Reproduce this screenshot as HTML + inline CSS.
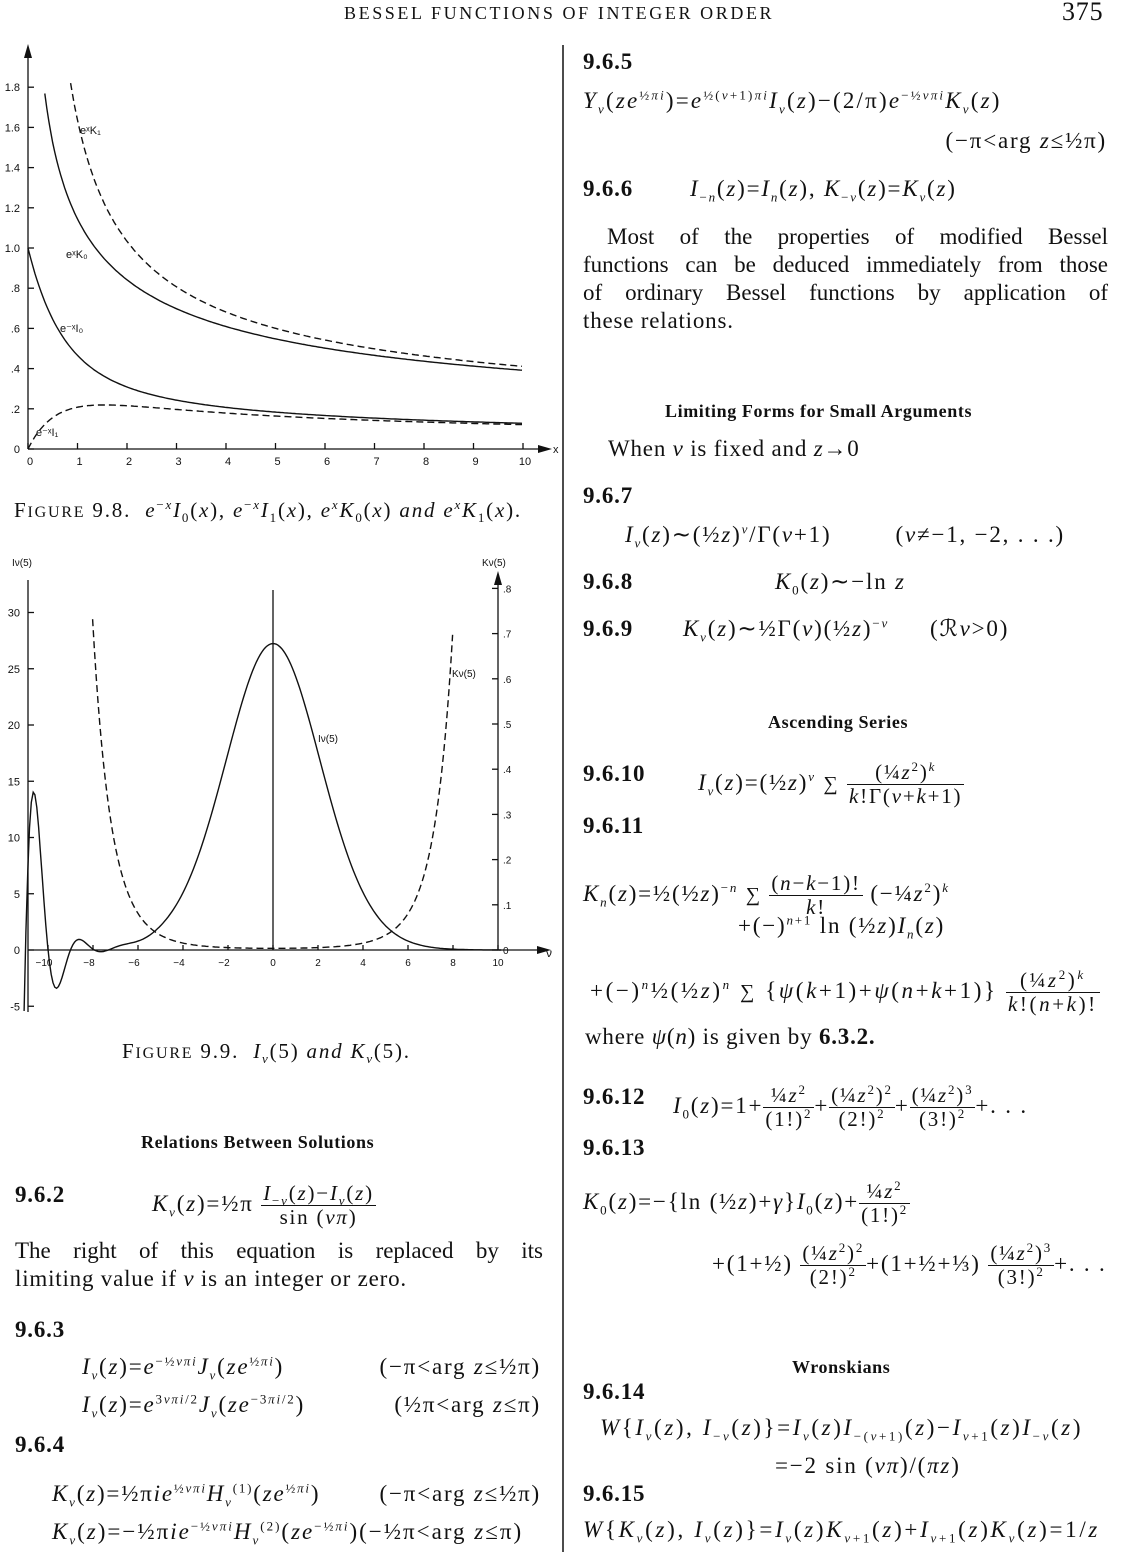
<!DOCTYPE html>
<html><head><meta charset="utf-8">
<style>
body{margin:0;background:#fff;}
#p{position:relative;width:1133px;height:1552px;overflow:hidden;background:#fff;color:#111;font-family:"Liberation Serif",serif;}
.t{position:absolute;white-space:nowrap;font-size:23px;line-height:26px;letter-spacing:0.8px;}
.f{letter-spacing:1.8px;}
.b{font-weight:bold;}
.h{font-weight:bold;font-size:18px;letter-spacing:0.6px;}
i{font-style:italic;}
sub,sup{font-size:13px;line-height:0;}
.fr{display:inline-block;vertical-align:middle;text-align:center;font-size:21px;line-height:23px;}
.fr>span{display:block;padding:0 2px;}
.fr>span:first-child{border-bottom:1.5px solid #111;}
</style></head><body><div id="p">
<div class="t" style="left:344px;top:0px;font-size:18px;letter-spacing:2.6px">BESSEL FUNCTIONS OF INTEGER ORDER</div>
<div class="t" style="left:1062px;top:-1px;font-size:26px">375</div>

<svg id="g" width="1133" height="1552" style="position:absolute;left:0;top:0" xmlns="http://www.w3.org/2000/svg"></svg>

<div class="t f" style="left:14px;top:497px;font-size:21px">F<span style="font-size:16px">IGURE</span> 9.8. &nbsp;<i>e</i><sup>−<i>x</i></sup><i>I</i><sub>0</sub>(<i>x</i>), <i>e</i><sup>−<i>x</i></sup><i>I</i><sub>1</sub>(<i>x</i>), <i>e</i><sup><i>x</i></sup><i>K</i><sub>0</sub>(<i>x</i>) <i>and e</i><sup><i>x</i></sup><i>K</i><sub>1</sub>(<i>x</i>).</div>
<div class="t f" style="left:122px;top:1038px;font-size:21px">F<span style="font-size:16px">IGURE</span> 9.9. &nbsp;<i>I<sub>ν</sub></i>(5) <i>and K<sub>ν</sub></i>(5).</div>
<div class="t h" style="left:141px;top:1129px">Relations Between Solutions</div>
<div class="t b" style="left:15px;top:1182px">9.6.2</div>
<div class="t f" style="left:152px;top:1182px"><i>K<sub>ν</sub></i>(<i>z</i>)=½π <span class="fr"><span><i>I</i><sub>−<i>ν</i></sub>(<i>z</i>)−<i>I<sub>ν</sub></i>(<i>z</i>)</span><span>sin (<i>νπ</i>)</span></span></div>
<div class="t" style="left:15px;top:1238px;width:528px;text-align:justify;text-align-last:justify;letter-spacing:0">The right of this equation is replaced by its</div>
<div class="t" style="left:15px;top:1266px">limiting value if <i>ν</i> is an integer or zero.</div>
<div class="t b" style="left:15px;top:1317px">9.6.3</div>
<div class="t f" style="left:82px;top:1354px"><i>I<sub>ν</sub></i>(<i>z</i>)=<i>e</i><sup>−½<i>νπi</i></sup><i>J<sub>ν</sub></i>(<i>ze</i><sup>½<i>πi</i></sup>)</div>
<div class="t f" style="right:592px;top:1354px">(−π&lt;arg <i>z</i>≤½π)</div>
<div class="t f" style="left:82px;top:1392px"><i>I<sub>ν</sub></i>(<i>z</i>)=<i>e</i><sup>3<i>νπi</i>/2</sup><i>J<sub>ν</sub></i>(<i>ze</i><sup>−3<i>πi</i>/2</sup>)</div>
<div class="t f" style="right:592px;top:1392px">(½π&lt;arg <i>z</i>≤π)</div>
<div class="t b" style="left:15px;top:1432px">9.6.4</div>
<div class="t f" style="left:52px;top:1481px"><i>K<sub>ν</sub></i>(<i>z</i>)=½π<i>ie</i><sup>½<i>νπi</i></sup><i>H</i><sub><i>ν</i></sub><sup>(1)</sup>(<i>ze</i><sup>½<i>πi</i></sup>)</div>
<div class="t f" style="right:592px;top:1481px">(−π&lt;arg <i>z</i>≤½π)</div>
<div class="t f" style="left:52px;top:1519px;letter-spacing:2px"><i>K<sub>ν</sub></i>(<i>z</i>)=−½π<i>ie</i><sup>−½<i>νπi</i></sup><i>H</i><sub><i>ν</i></sub><sup>(2)</sup>(<i>ze</i><sup>−½<i>πi</i></sup>)(−½π&lt;arg <i>z</i>≤π)</div>

<div class="t b" style="left:583px;top:49px">9.6.5</div>
<div class="t f" style="left:583px;top:88px;letter-spacing:2.2px"><i>Y<sub>ν</sub></i>(<i>ze</i><sup>½<i>πi</i></sup>)=<i>e</i><sup>½(<i>ν</i>+1)<i>πi</i></sup><i>I<sub>ν</sub></i>(<i>z</i>)−(2/π)<i>e</i><sup>−½<i>νπi</i></sup><i>K<sub>ν</sub></i>(<i>z</i>)</div>
<div class="t f" style="right:26px;top:128px">(−π&lt;arg <i>z</i>≤½π)</div>
<div class="t b" style="left:583px;top:176px">9.6.6</div>
<div class="t f" style="left:690px;top:176px"><i>I</i><sub>−<i>n</i></sub>(<i>z</i>)=<i>I<sub>n</sub></i>(<i>z</i>), <i>K</i><sub>−<i>ν</i></sub>(<i>z</i>)=<i>K<sub>ν</sub></i>(<i>z</i>)</div>
<div class="t" style="left:607px;top:224px;width:501px;text-align:justify;text-align-last:justify;letter-spacing:0">Most of the properties of modified Bessel</div>
<div class="t" style="left:583px;top:252px;width:525px;text-align:justify;text-align-last:justify;letter-spacing:0">functions can be deduced immediately from those</div>
<div class="t" style="left:583px;top:280px;width:525px;text-align:justify;text-align-last:justify;letter-spacing:0">of ordinary Bessel functions by application of</div>
<div class="t" style="left:583px;top:308px">these relations.</div>
<div class="t h" style="left:665px;top:398px">Limiting Forms for Small Arguments</div>
<div class="t" style="left:608px;top:436px">When <i>ν</i> is fixed and <i>z</i>→0</div>
<div class="t b" style="left:583px;top:483px">9.6.7</div>
<div class="t f" style="left:625px;top:522px"><i>I<sub>ν</sub></i>(<i>z</i>)∼(½<i>z</i>)<sup><i>ν</i></sup>/Γ(<i>ν</i>+1)</div>
<div class="t f" style="right:68px;top:522px">(<i>ν</i>≠−1, −2, . . .)</div>
<div class="t b" style="left:583px;top:569px">9.6.8</div>
<div class="t f" style="left:775px;top:569px"><i>K</i><sub>0</sub>(<i>z</i>)∼−ln <i>z</i></div>
<div class="t b" style="left:583px;top:616px">9.6.9</div>
<div class="t f" style="left:683px;top:616px"><i>K<sub>ν</sub></i>(<i>z</i>)∼½Γ(<i>ν</i>)(½<i>z</i>)<sup>−<i>ν</i></sup></div>
<div class="t f" style="left:930px;top:616px">(ℛ<i>ν</i>&gt;0)</div>
<div class="t h" style="left:768px;top:709px">Ascending Series</div>
<div class="t b" style="left:583px;top:761px">9.6.10</div>
<div class="t f" style="left:698px;top:761px"><i>I<sub>ν</sub></i>(<i>z</i>)=(½<i>z</i>)<sup><i>ν</i></sup> <span style="font-size:20px">∑</span> <span class="fr"><span>(¼<i>z</i><sup>2</sup>)<sup><i>k</i></sup></span><span><i>k</i>!Γ(<i>ν</i>+<i>k</i>+1)</span></span></div>
<div class="t b" style="left:583px;top:813px">9.6.11</div>
<div class="t f" style="left:583px;top:872px"><i>K<sub>n</sub></i>(<i>z</i>)=½(½<i>z</i>)<sup>−<i>n</i></sup> <span style="font-size:20px">∑</span> <span class="fr"><span>(<i>n</i>−<i>k</i>−1)!</span><span><i>k</i>!</span></span> (−¼<i>z</i><sup>2</sup>)<sup><i>k</i></sup></div>
<div class="t f" style="left:738px;top:913px">+(−)<sup><i>n</i>+1</sup> ln (½<i>z</i>)<i>I<sub>n</sub></i>(<i>z</i>)</div>
<div class="t f" style="left:590px;top:969px;letter-spacing:2.6px">+(−)<sup><i>n</i></sup>½(½<i>z</i>)<sup><i>n</i></sup> <span style="font-size:20px">∑</span> {<i>ψ</i>(<i>k</i>+1)+<i>ψ</i>(<i>n</i>+<i>k</i>+1)} <span class="fr"><span>(¼<i>z</i><sup>2</sup>)<sup><i>k</i></sup></span><span><i>k</i>!(<i>n</i>+<i>k</i>)!</span></span></div>
<div class="t" style="left:585px;top:1024px">where <i>ψ</i>(<i>n</i>) is given by <b>6.3.2.</b></div>
<div class="t b" style="left:583px;top:1084px">9.6.12</div>
<div class="t f" style="left:673px;top:1084px"><i>I</i><sub>0</sub>(<i>z</i>)=1+<span class="fr"><span>¼<i>z</i><sup>2</sup></span><span>(1!)<sup>2</sup></span></span>+<span class="fr"><span>(¼<i>z</i><sup>2</sup>)<sup>2</sup></span><span>(2!)<sup>2</sup></span></span>+<span class="fr"><span>(¼<i>z</i><sup>2</sup>)<sup>3</sup></span><span>(3!)<sup>2</sup></span></span>+. . .</div>
<div class="t b" style="left:583px;top:1135px">9.6.13</div>
<div class="t f" style="left:583px;top:1180px"><i>K</i><sub>0</sub>(<i>z</i>)=−{ln (½<i>z</i>)+<i>γ</i>}<i>I</i><sub>0</sub>(<i>z</i>)+<span class="fr"><span>¼<i>z</i><sup>2</sup></span><span>(1!)<sup>2</sup></span></span></div>
<div class="t f" style="left:712px;top:1242px">+(1+½) <span class="fr"><span>(¼<i>z</i><sup>2</sup>)<sup>2</sup></span><span>(2!)<sup>2</sup></span></span>+(1+½+⅓) <span class="fr"><span>(¼<i>z</i><sup>2</sup>)<sup>3</sup></span><span>(3!)<sup>2</sup></span></span>+. . .</div>
<div class="t h" style="left:792px;top:1354px">Wronskians</div>
<div class="t b" style="left:583px;top:1379px">9.6.14</div>
<div class="t f" style="left:600px;top:1415px;letter-spacing:2.6px"><i>W</i>{<i>I<sub>ν</sub></i>(<i>z</i>), <i>I</i><sub>−<i>ν</i></sub>(<i>z</i>)}=<i>I<sub>ν</sub></i>(<i>z</i>)<i>I</i><sub>−(<i>ν</i>+1)</sub>(<i>z</i>)−<i>I</i><sub><i>ν</i>+1</sub>(<i>z</i>)<i>I</i><sub>−<i>ν</i></sub>(<i>z</i>)</div>
<div class="t f" style="left:775px;top:1453px">=−2 sin (<i>νπ</i>)/(<i>πz</i>)</div>
<div class="t b" style="left:583px;top:1481px">9.6.15</div>
<div class="t f" style="left:583px;top:1517px;letter-spacing:2.7px"><i>W</i>{<i>K<sub>ν</sub></i>(<i>z</i>), <i>I<sub>ν</sub></i>(<i>z</i>)}=<i>I<sub>ν</sub></i>(<i>z</i>)<i>K</i><sub><i>ν</i>+1</sub>(<i>z</i>)+<i>I</i><sub><i>ν</i>+1</sub>(<i>z</i>)<i>K<sub>ν</sub></i>(<i>z</i>)=1/<i>z</i></div>

<script>
(function(){
var svg=document.getElementById('g');var NS='http://www.w3.org/2000/svg';
function el(n,a,txt){var e=document.createElementNS(NS,n);for(var k in a)e.setAttribute(k,a[k]);if(txt!=null)e.textContent=txt;svg.appendChild(e);return e;}
function line(x1,y1,x2,y2,w){el('line',{x1:x1,y1:y1,x2:x2,y2:y2,stroke:'#111','stroke-width':w||1.3});}
function txt(x,y,s,sz,anchor){el('text',{x:x,y:y,'font-family':'Liberation Sans, sans-serif','font-size':sz||11,'text-anchor':anchor||'start',fill:'#111'},s);}
function I(nu,x){var N=1500,h=Math.PI/N,s=0;for(var i=0;i<=N;i++){var t=i*h,w=(i==0||i==N)?0.5:1;s+=w*Math.exp(x*Math.cos(t))*Math.cos(nu*t);}s*=h/Math.PI;
 var sn=Math.sin(nu*Math.PI);if(Math.abs(sn)>1e-12){var M=3000,T=8,h2=T/M,s2=0;for(var j=0;j<=M;j++){var u=j*h2,w2=(j==0||j==M)?0.5:1;s2+=w2*Math.exp(-x*Math.cosh(u)-nu*u);}s-=sn/Math.PI*s2*h2;}return s;}
function K(nu,x){var M=3000,T=12,h=T/M,s=0;for(var j=0;j<=M;j++){var u=j*h,w=(j==0||j==M)?0.5:1;var v=-x*Math.cosh(u);if(v<-700)continue;s+=w*Math.exp(v)*Math.cosh(nu*u);}return s*h;}
function path(pts,dash,clipTop,clipBot){var d='',pen=false;for(var i=0;i<pts.length;i++){var p=pts[i];if(p[1]<clipTop||p[1]>clipBot){pen=false;continue;}d+=(pen?'L':'M')+p[0].toFixed(1)+' '+p[1].toFixed(1);pen=true;}
 var a={d:d,fill:'none',stroke:'#111','stroke-width':1.4};if(dash)a['stroke-dasharray']='7,4';el('path',a);}
line(563,45,563,1552,1.5);
var X0=28,SX=49.5,Y0=449,SY=201;
line(X0,50,X0,Y0);line(X0,Y0,548,Y0);
el('polygon',{points:'24,58 28,44 32,58',fill:'#111'});
el('polygon',{points:'538,445 552,449 538,453',fill:'#111'});
txt(553,453,'x',11);
var yl=[['0',0],['.2',.2],['.4',.4],['.6',.6],['.8',.8],['1.0',1],['1.2',1.2],['1.4',1.4],['1.6',1.6],['1.8',1.8]];
yl.forEach(function(v){var y=Y0-SY*v[1];line(X0,y,X0+6,y);txt(20,y+4,v[0],11,'end');});
for(var k=0;k<=10;k++){var x=X0+SX*k;line(x,Y0,x,Y0-6);txt(x+2,Y0+16,''+k,11,'middle');}
var A=[],B=[],C=[],D=[];
for(var x=0.02;x<=10.0001;x+=0.04){var px=X0+SX*x;
 A.push([px,Y0-SY*Math.exp(x)*K(1,x)]);B.push([px,Y0-SY*Math.exp(x)*K(0,x)]);
 C.push([px,Y0-SY*Math.exp(-x)*I(0,x)]);D.push([px,Y0-SY*Math.exp(-x)*I(1,x)]);}
C.unshift([X0,Y0-SY]);D.unshift([X0,Y0]);
path(A,true,80,460);path(B,false,80,460);path(C,false,0,460);path(D,true,0,460);
txt(80,134,'eˣK₁',11);txt(66,258,'eˣK₀',11);txt(60,332,'e⁻ˣI₀',11);txt(36,436,'e⁻ˣI₁',11);
var NX=273,NS2=22.5,IY=950,IS=11.25,KS=452;
line(28,580,28,1012);line(28,IY,545,IY);line(498,578,498,IY);
el('polygon',{points:'494,585 498,571 502,585',fill:'#111'});
el('polygon',{points:'537,946 551,950 537,954',fill:'#111'});
txt(546,957,'ν',12);
txt(12,566,'Iν(5)',10);txt(482,566,'Kν(5)',10);
[30,25,20,15,10,5,0,-5].forEach(function(v){var y=IY-IS*v;line(28,y,34,y);txt(20,y+4,''+v,11,'end');});
[.8,.7,.6,.5,.4,.3,.2,.1,0].forEach(function(v){var y=IY-KS*v;line(492,y,498,y);txt(503,y+4,v==0?'0':('.'+Math.round(v*10)),10);});
for(var n=-10;n<=10;n+=2){var x=NX+NS2*n;line(x,IY,x,IY-5);txt(x+(n<0?-4:0),IY+16,n<0?('−'+(-n)):''+n,10,'middle');}
line(273,590,273,IY,1.3);
var P=[],Q=[];
for(var nu=-11.3;nu<=10.2;nu+=0.08){var px=NX+NS2*nu;P.push([px,IY-IS*I(nu,5)]);if(Math.abs(nu)<=8.6)Q.push([px,IY-KS*K(nu,5)]);}
path(P,false,560,1020);path(Q,true,615,IY);
txt(318,742,'Iν(5)',10);txt(452,677,'Kν(5)',10);
})();
</script>
</div></body></html>
